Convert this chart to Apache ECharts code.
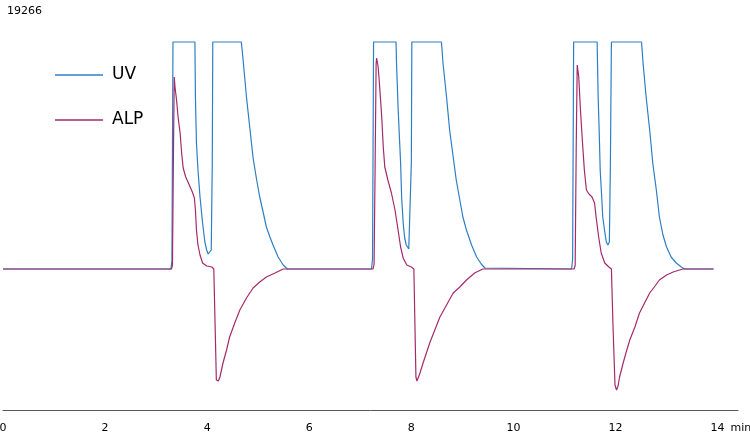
<!DOCTYPE html>
<html>
<head>
<meta charset="utf-8">
<script src="https://cdn.jsdelivr.net/npm/echarts@6/dist/echarts.min.js"></script>
<style>
    html, body { margin: 0; padding: 0; background: #fff; }
    #chart { width: 750px; height: 434px; }
</style>
</head>
<body>
<div id="chart"></div>
<script>
    // 时间 (min) / 信号, 三次进样
    var uvTime = [0, 3.29, 3.31, 3.33,
        3.76, 3.77, 3.79, 3.82, 3.86, 3.91, 3.955, 3.99, 4.02, 4.05, 4.08, 4.10, 4.11,
        4.67, 4.71, 4.77, 4.84, 4.90, 4.97, 5.03, 5.10, 5.16, 5.23, 5.29, 5.39, 5.49, 5.57,
        7.22, 7.24, 7.26,
        7.70, 7.71, 7.74, 7.76, 7.79, 7.81, 7.84, 7.87, 7.90, 7.95, 7.98, 8.00, 8.01,
        8.59, 8.62, 8.69, 8.75, 8.82, 8.88, 8.95, 9.01, 9.08, 9.18, 9.28, 9.37, 9.44, 9.47,
        11.14, 11.16, 11.18,
        11.64, 11.66, 11.68, 11.70, 11.73, 11.75, 11.79, 11.82, 11.85, 11.88, 11.90, 11.92,
        12.51, 12.54, 12.60, 12.67, 12.73, 12.80, 12.86, 12.93, 13.00, 13.09, 13.19, 13.29, 13.35, 13.92];
    var uvSignal = [0, 0, 8, 227,
        227, 172, 126, 99, 72, 46, 27, 19, 15, 14, 19, 106, 227,
        227, 206, 172, 139, 111, 89, 72, 56, 42, 32, 24, 12, 4, 0,
        0, 10, 227,
        227, 206, 162, 139, 106, 72, 46, 31, 24, 20, 22, 106, 227,
        227, 206, 172, 139, 112, 89, 69, 52, 39, 24, 12, 5, 1, 0,
        0, 10, 227,
        227, 172, 139, 99, 72, 52, 37, 27, 24, 27, 106, 227,
        227, 206, 172, 139, 106, 79, 52, 34, 22, 12, 6, 2, 0, 0];

    var alpTime = [0, 3.30, 3.32, 3.34, 3.355, 3.37, 3.40, 3.43, 3.47, 3.50, 3.53, 3.58, 3.65, 3.71, 3.75, 3.77, 3.79, 3.82, 3.86, 3.91, 3.99, 4.09, 4.13,
        4.155, 4.18, 4.20, 4.22, 4.25, 4.31, 4.38, 4.44, 4.54, 4.64, 4.77, 4.90, 5.03, 5.16, 5.33, 5.49,
        7.25, 7.27, 7.29, 7.31, 7.32, 7.35, 7.38, 7.42, 7.45, 7.48, 7.54, 7.61, 7.68, 7.74, 7.79, 7.84, 7.91, 8.00, 8.05,
        8.07, 8.09, 8.11, 8.13, 8.17, 8.23, 8.36, 8.46, 8.56, 8.69, 8.82, 8.95, 9.08, 9.24, 9.40,
        11.19, 11.21, 11.23, 11.25, 11.28, 11.31, 11.35, 11.39, 11.43, 11.48, 11.54, 11.59, 11.62, 11.67, 11.72, 11.79, 11.87, 11.92,
        11.95, 11.99, 12.02, 12.05, 12.08, 12.15, 12.21, 12.28, 12.38, 12.47, 12.57, 12.67, 12.76, 12.86, 13.00, 13.13, 13.32, 13.92];
    var alpSignal = [0, 0, 4, 120, 192, 182, 169, 152, 136, 116, 101, 92, 84, 77, 71, 59, 39, 24, 14, 6, 3, 2, 0,
        -55, -111, -113, -112, -108, -94, -81, -68, -54, -41, -29, -19, -13, -8, -4, 0,
        0, 5, 100, 205, 211, 202, 182, 152, 122, 102, 89, 76, 59, 39, 22, 11, 4, 2, 0,
        -55, -108, -112, -110, -104, -94, -74, -61, -48, -36, -24, -18, -11, -4, 0,
        0, 4, 120, 204, 192, 162, 129, 99, 79, 75, 72, 66, 52, 32, 16, 6, 2, 0,
        -55, -116, -121, -117, -108, -94, -83, -71, -58, -44, -34, -24, -18, -11, -6, -3, 0, 0];

    var xTicks = [0, 2, 4, 6, 8, 10, 12, 14];
    var topLabel = '19266';

    function pairs(t, v) {
        return t.map(function (x, i) { return [x, v[i]]; });
    }

    var myChart = echarts.init(document.getElementById('chart'));
    var font = 'DejaVu Sans';
    myChart.setOption({
        animation: false,
        title: {
            text: topLabel,
            left: 2,
            top: 1,
            textStyle: { fontSize: 11, fontWeight: 'normal', color: '#000', fontFamily: font }
        },
        legend: {
            orient: 'vertical',
            left: 55,
            top: 65,
            padding: 0,
            icon: 'rect',
            itemWidth: 48,
            itemHeight: 1.5,
            itemGap: 25,
            textStyle: { fontSize: 17, lineHeight: 20, color: '#000', fontFamily: font, padding: [0, 0, 0, 4] },
            data: ['UV', 'ALP']
        },
        grid: { left: 3, right: 12, top: 20, bottom: 24, outerBoundsMode: 'none' },
        xAxis: {
            type: 'value',
            min: xTicks[0],
            max: 14.4,
            interval: 2,
            name: 'min',
            nameLocation: 'end',
            nameGap: -8,
            nameTextStyle: { fontSize: 11, color: '#000', fontFamily: font, align: 'left', verticalAlign: 'top', padding: [13, 0, 0, 0] },
            axisLine: { onZero: false, lineStyle: { color: '#555', width: 1 } },
            axisTick: { show: false },
            splitLine: { show: false },
            axisLabel: { showMaxLabel: false, margin: 13, fontSize: 11, color: '#000', fontFamily: font }
        },
        yAxis: {
            type: 'value',
            min: -141,
            max: 249,
            show: false
        },
        series: [
            {
                name: 'UV',
                type: 'line',
                symbol: 'none',
                data: pairs(uvTime, uvSignal),
                lineStyle: { color: '#2c7fc4', width: 1.2 },
                itemStyle: { color: '#2c7fc4' }
            },
            {
                name: 'ALP',
                type: 'line',
                symbol: 'none',
                data: pairs(alpTime, alpSignal),
                lineStyle: { color: '#a52a6b', width: 1.2 },
                itemStyle: { color: '#a52a6b' }
            }
        ]
    });
</script>
</body>
</html>
